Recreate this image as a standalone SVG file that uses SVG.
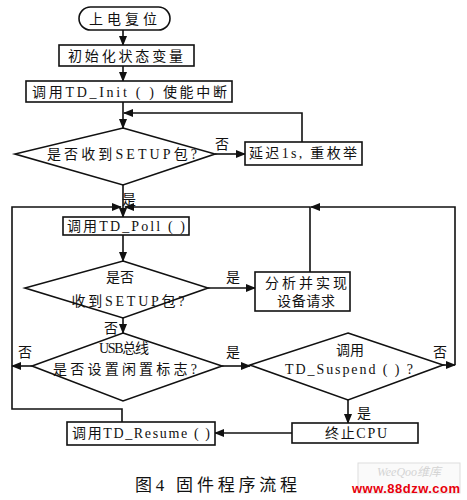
<svg xmlns="http://www.w3.org/2000/svg" width="467" height="500" viewBox="0 0 467 500">
<style>
.b{fill:#fff;stroke:#111;stroke-width:1.6}
.c{fill:none;stroke:#111;stroke-width:1.6}
text{font-family:"Liberation Serif","Noto Sans CJK SC",serif;font-size:14px;fill:#111;text-anchor:middle;dominant-baseline:central}
</style>
<defs>
<marker id="a" markerUnits="userSpaceOnUse" markerWidth="10" markerHeight="8" refX="9" refY="4" orient="auto">
<path d="M0,0 L10,4 L0,8 z" fill="#111"/>
</marker>
</defs>
<rect width="467" height="500" fill="#fff"/>
<g id="connectors">
<path class="c" d="M123,30 V45" marker-end="url(#a)"/>
<path class="c" d="M123,66 V81" marker-end="url(#a)"/>
<path class="c" d="M123,102 V128" marker-end="url(#a)"/>
<path class="c" d="M302,142 V113 H124" marker-end="url(#a)"/>
<path class="c" d="M215,154 H245" marker-end="url(#a)"/>
<path class="c" d="M123,185 V217" marker-end="url(#a)"/>
<path class="c" d="M122,422 V409 H12 V207 H121" marker-end="url(#a)"/>
<path class="c" d="M455,365 V207 H311" marker-end="url(#a)"/>
<path class="c" d="M310,272 V207 H125" marker-end="url(#a)"/>
<path class="c" d="M123,235 V261" marker-end="url(#a)"/>
<path class="c" d="M208,288 H255" marker-end="url(#a)"/>
<path class="c" d="M123,318 V333" marker-end="url(#a)"/>
<path class="c" d="M32,366 H12" marker-end="url(#a)"/>
<path class="c" d="M222,366 H250" marker-end="url(#a)"/>
<path class="c" d="M443,365 H455" marker-end="url(#a)"/>
<path class="c" d="M348,400 V423" marker-end="url(#a)"/>
<path class="c" d="M292,433 H215" marker-end="url(#a)"/>
</g>
<g id="labels">
<text x="222" y="144">否</text>
<text x="129" y="199">是</text>
<text x="233" y="277">是</text>
<text x="111" y="328">否</text>
<text x="25" y="352">否</text>
<text x="233" y="352">是</text>
<text x="440" y="352">否</text>
<text x="364" y="413">是</text>
</g>
<g id="start">
<rect class="b" x="79" y="7" width="91" height="23" rx="11.5"/>
<text x="123" y="19" textLength="68" lengthAdjust="spacing">上电复位</text>
</g>
<g id="init">
<rect class="b" x="59" y="45" width="135" height="21"/>
<text x="125.5" y="56" textLength="115" lengthAdjust="spacing">初始化状态变量</text>
</g>
<g id="tdinit">
<rect class="b" x="26" y="81" width="206" height="21"/>
<text x="129.5" y="92" textLength="195" lengthAdjust="spacing">调用TD_Init ( ) 使能中断</text>
</g>
<g id="setup1">
<polygon class="b" points="123,128 215,154 123,185 15,154"/>
<text x="122" y="154" textLength="150" lengthAdjust="spacing">是否收到SETUP包?</text>
</g>
<g id="delay">
<rect class="b" x="245" y="142" width="117" height="23"/>
<text x="303" y="153.5" textLength="108" lengthAdjust="spacing">延迟1s, 重枚举</text>
</g>
<g id="poll">
<rect class="b" x="63" y="217" width="126" height="18"/>
<text x="126" y="226" textLength="118" lengthAdjust="spacing">调用TD_Poll ( )</text>
</g>
<g id="setup2">
<polygon class="b" points="123,261 208,288 123,318 25,288"/>
<text x="120" y="277">是否</text>
<text x="128" y="301" textLength="113" lengthAdjust="spacing">收到SETUP包?</text>
</g>
<g id="request">
<rect class="b" x="255" y="272" width="95" height="39"/>
<text x="306" y="283" textLength="82" lengthAdjust="spacing">分析并实现</text>
<text x="306" y="301" textLength="58" lengthAdjust="spacing">设备请求</text>
</g>
<g id="usb">
<polygon class="b" points="123,333 222,366 123,401 32,366"/>
<text x="124" y="348" textLength="50" lengthAdjust="spacing">USB总线</text>
<text x="125" y="369" textLength="144" lengthAdjust="spacing">是否设置闲置标志?</text>
</g>
<g id="suspend">
<polygon class="b" points="348,333 443,365 348,400 250,365"/>
<text x="350" y="350">调用</text>
<text x="349" y="369" textLength="128" lengthAdjust="spacing">TD_Suspend ( ) ?</text>
</g>
<g id="cpu">
<rect class="b" x="292" y="423" width="126" height="20"/>
<text x="356" y="433" textLength="62" lengthAdjust="spacing">终止CPU</text>
</g>
<g id="resume">
<rect class="b" x="67" y="422" width="148" height="23"/>
<text x="141" y="433.5" textLength="138" lengthAdjust="spacing">调用TD_Resume ( )</text>
</g>
<text x="216" y="485" style="font-size:17px" textLength="162" lengthAdjust="spacing">图4  固件程序流程</text>
<rect x="358" y="463" width="102" height="30" fill="#fafafa" stroke="#ddd" stroke-width="1"/>
<text x="409" y="472" style="font-size:12px;font-style:italic;fill:#d4d4d4">WeeQoo维库</text>
<text x="406" y="488" style="font-family:'Liberation Sans',sans-serif;font-size:13px;font-weight:bold;fill:#e8000b" textLength="108" lengthAdjust="spacing">www.88dzw.com</text>
</svg>
